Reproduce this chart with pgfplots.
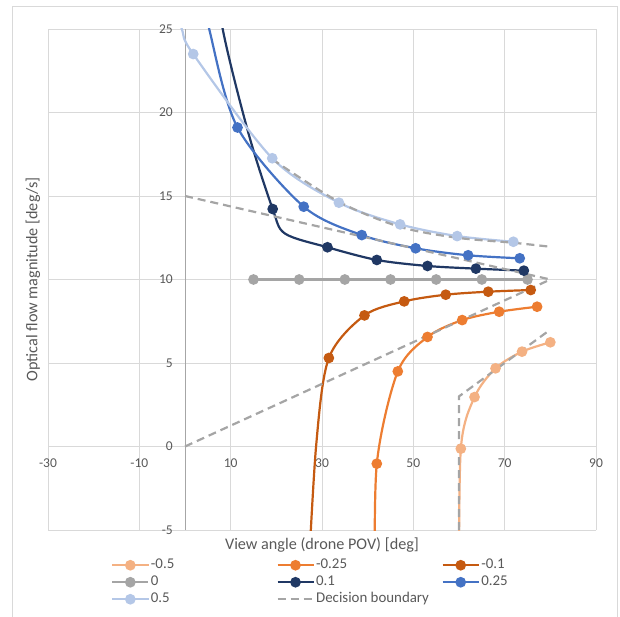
\documentclass[border=0pt]{standalone}
\usepackage{pgfplots}
\pgfplotsset{compat=1.18}
\usepackage{fontspec}
\setmainfont{Carlito}

\definecolor{cmA}{HTML}{F4B183}   % -0.5
\definecolor{cmB}{HTML}{ED7D31}   % -0.25
\definecolor{cmC}{HTML}{C55A11}   % -0.1
\definecolor{czero}{HTML}{A5A5A5} % 0
\definecolor{cpC}{HTML}{203864}   % 0.1
\definecolor{cpB}{HTML}{4472C4}   % 0.25
\definecolor{cpA}{HTML}{B4C7E7}   % 0.5
\definecolor{gridc}{HTML}{D9D9D9}
\definecolor{labc}{HTML}{595959}

\begin{document}
\begin{tikzpicture}[x=1pt,y=1pt]
\useasboundingbox (0,0) rectangle (620,616);
\draw[gridc] (12,-10) rectangle (617,610);
\begin{axis}[
    at={(48pt,86pt)}, anchor=south west,
    scale only axis, width=548pt, height=501pt,
    xmin=-30, xmax=90, ymin=-5, ymax=25,
    xtick={-30,-10,...,90}, ytick={-5,0,...,25},
    axis lines=middle,
    hide obscured x ticks=false, hide obscured y ticks=false,
    x axis line style={-, draw=gridc, line width=1.6pt},
    y axis line style={-, draw=black!35, line width=0.9pt},
    grid=major, major grid style={draw=gridc, line width=0.9pt},
    major tick length=0pt,
    /pgf/number format/assume math mode=true,
    tick label style={font=\fontsize{13.5}{14}\selectfont, text=labc, inner sep=0pt},
    xticklabel style={anchor=north, yshift=-12.5pt},
    yticklabel style={anchor=east, xshift=-12pt},
    xlabel={View angle (drone POV) [deg]},
    ylabel={Optical flow magnitude [deg/s]},
    label style={font=\fontsize{16.2}{18}\selectfont, text=labc},
    xlabel style={at={(axis description cs:0.5,0)}, anchor=center, yshift=-14.5pt},
    ylabel style={at={(axis description cs:-0.0274,0.5)}, anchor=center, rotate=90},
    every axis plot/.append style={line width=2.2pt, mark size=4.2pt},
    legend columns=3,
    legend style={at={(axis description cs:0.115,-0.053)}, anchor=north west,
        draw=none, fill=none, inner sep=0pt, row sep=0pt, column sep=0pt,
        font=\fontsize{14.9}{17}\selectfont, text=labc,
        nodes={text height=10.5pt, text depth=3.5pt, inner sep=1.5pt}},
    legend cell align=left,
    legend image code/.code={\draw[mark indices={2}] plot coordinates {(0pt,0pt) (18pt,0pt) (36pt,0pt)};},
]
% mark indices count from 0; the first points lie outside the plot area
\addplot[cmA, smooth, mark=*, mark indices={1,2,3,4,5}] coordinates {
    (60.0,-9) (60.4,-0.13) (63.4,2.96) (68.0,4.68) (73.8,5.68) (80.0,6.24)};
\addlegendentry{\makebox[124pt][l]{-0.5}}
\addplot[cmB, smooth, mark=*, mark indices={1,2,3,4,5,6}] coordinates {
    (41.6,-9) (42.0,-1.03) (46.6,4.5) (53.1,6.56) (60.7,7.57) (68.8,8.07) (77.1,8.37)};
\addlegendentry{\makebox[124pt][l]{-0.25}}
\addplot[cmC, smooth, mark=*, mark indices={2,3,4,5,6,7}] coordinates {
    (26.8,-9) (28.7,0) (31.5,5.3) (39.3,7.85) (48.0,8.69) (57.1,9.09) (66.4,9.27) (75.7,9.37)};
\addlegendentry{\makebox[124pt][l]{-0.1}}
\addplot[czero, mark=*] coordinates {
    (15,10) (25,10) (35,10) (45,10) (55,10) (65,10) (75,10)};
\addlegendentry{\makebox[124pt][l]{0}}
\addplot[cpC, smooth, mark=*, mark indices={3,5,6,7,8,9}] coordinates {
    (5.5,30.5) (8.25,25) (13.9,18.75) (19.2,14.22) (21.9,12.75) (31.2,11.93) (42.0,11.17) (53.1,10.81) (63.7,10.65) (74.2,10.53)};
\addlegendentry{\makebox[124pt][l]{0.1}}
\addplot[cpB, smooth, mark=*, mark indices={2,3,4,5,6,7}] coordinates {
    (2.5,29) (5.3,25) (11.5,19.1) (26.0,14.36) (38.7,12.66) (50.5,11.87) (62.0,11.45) (73.3,11.27)};
\addlegendentry{\makebox[124pt][l]{0.25}}
\addplot[cpA, smooth, mark=*, mark indices={2,3,4,5,6,7}] coordinates {
    (-3,27.2) (-0.7,25) (1.8,23.5) (19.1,17.26) (33.7,14.6) (47.1,13.3) (59.6,12.6) (71.9,12.26)};
\addlegendentry{\makebox[124pt][l]{0.5}}
% decision boundary, drawn as separate pieces
\addplot[czero, dash pattern=on 8pt off 5pt] coordinates {(0,0) (80,10)};
\addlegendentry{Decision boundary}
\addplot[czero, dash pattern=on 8pt off 5pt, forget plot] coordinates {(0,15) (80,10)};
\addplot[czero, dash pattern=on 8pt off 5pt, smooth, forget plot] coordinates {
    (19.1,17.2) (33.7,14.65) (47.1,13.15) (59.6,12.5) (71.9,12.2) (80,11.96)};
\addplot[czero, dash pattern=on 8pt off 5pt, forget plot] coordinates {(60,-5) (60,3) (80,7)};
\end{axis}
\end{tikzpicture}
\end{document}
